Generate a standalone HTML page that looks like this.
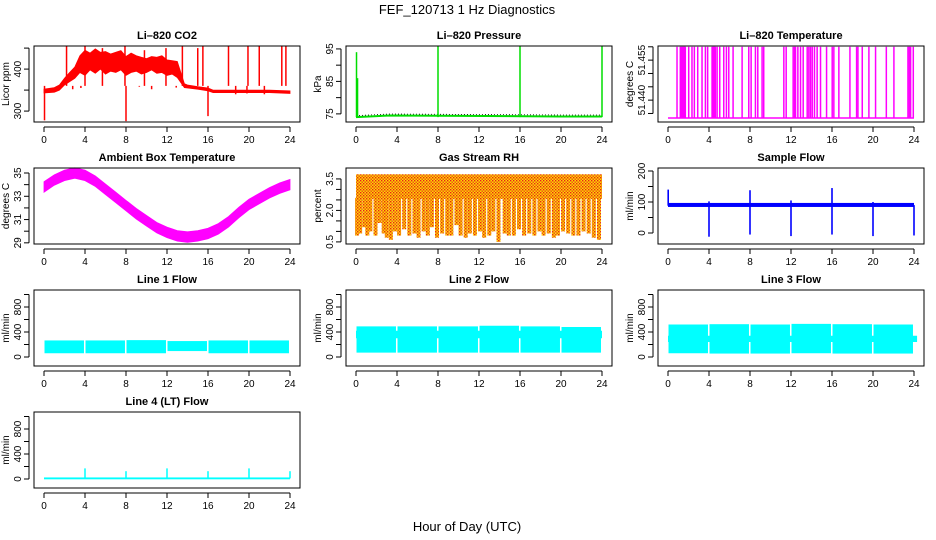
<!DOCTYPE html>
<html><head><meta charset="utf-8"><title>FEF_120713 1 Hz Diagnostics</title>
<style>
html,body{margin:0;padding:0;background:#fff;}
svg{display:block;font-family:"Liberation Sans",Arial,sans-serif;}
</style></head>
<body>
<svg id="chart" width="936" height="540" viewBox="0 0 936 540" xmlns="http://www.w3.org/2000/svg">
<defs>
<pattern id="rhpat" width="3" height="3" patternUnits="userSpaceOnUse">
<rect width="3" height="3" fill="#ffd800"/><rect x="0" y="0" width="1.4" height="1.4" fill="#e8201a"/><rect x="1.5" y="1.5" width="1.4" height="1.4" fill="#e8401a"/>
</pattern>
</defs>
<text x="467" y="14" text-anchor="middle" font-size="13">FEF_120713  1 Hz Diagnostics</text>
<text x="467" y="531" text-anchor="middle" font-size="13">Hour of Day (UTC)</text>
</svg>
<script>
// ---- data (hours of day) ----
const hourTicks = [0,4,8,12,16,20,24];
// CO2 band
const co2Hours = [0,1,1.5,2,2.5,3,3.5,4,4.5,5,5.5,6,6.5,7,7.5,8,8.5,9,9.5,10,10.5,11,11.5,12,12.5,13,13.7,14,15,16,16.5,18,20,22,24];
const co2Low  = [343,345,350,362,370,378,392,385,398,390,400,388,395,392,398,385,392,395,388,392,398,390,392,385,388,380,356,355,352,348,344,344,344,344,342];
const co2High = [352,356,362,378,392,405,432,445,438,448,440,442,436,440,444,430,438,432,428,425,430,428,432,422,420,418,365,362,358,355,350,350,350,350,348];
const co2SpikeT = [0.05,2.2,4.0,5.7,7.9,8.0,9.8,11.9,13.5,15.0,15.5,16.0,18.0,19.9,21.0,23.2,23.6,2.8,3.6,6.2,9.3,10.5,12.9,14.2,18.7,19.8,21.5];
const co2SpikeV = [278,455,455,450,455,276,445,450,455,450,455,288,455,455,455,455,455,352,355,360,358,352,356,355,340,342,340];
// Li-820 pressure
const presHours = [0,3.3,20,24];
const presBase = [74.0,74.5,74.2,74.2];
const presSpikeT = [0.05,0.15,8.0,16.0,24.0];
const presSpikeV = [94.0,86.0,95.8,96.0,95.8];
// Li-820 temperature
const tempBase = 51.4333;
const tempTop = 51.4600;
const tempSpikeT = [0.88,1.2,1.28,1.37,1.45,1.53,1.61,1.69,2.02,2.34,2.57,2.9,3.32,3.65,3.87,4.3,4.38,4.46,4.54,4.62,4.79,5.05,5.44,5.7,5.93,6.35,7.23,7.88,8.11,8.53,8.76,9.18,9.34,11.3,11.53,12.21,12.34,12.44,12.67,12.93,13.19,13.58,13.74,13.9,14.07,14.29,14.55,14.88,15.47,16.02,16.18,16.67,17.75,18.4,18.53,18.95,19.6,20.25,21.3,22.04,23.41,23.54,23.67,23.93];
// Ambient box temperature
const ambHours = [0,1,2,3,4,5,6,7,8,9,10,11,12,13,14,15,16,17,18,19,20,21,22,23,24];
const ambMid = [33.8,34.4,34.8,35.0,34.8,34.3,33.6,32.9,32.2,31.5,30.9,30.3,29.9,29.6,29.5,29.6,29.8,30.2,30.8,31.6,32.3,32.8,33.3,33.7,34.0];
const ambHalf = 0.45;
// Gas stream RH
const rhTop = 3.72;
const rhBottom = 2.55;
const rhSpikeT = [0.2,0.5,0.9,1.2,1.5,2.0,2.4,2.8,3.1,3.5,3.9,4.3,4.8,5.3,5.8,6.2,6.7,7.1,7.5,8.0,8.5,9.0,9.4,9.9,10.3,10.8,11.2,11.7,12.2,12.6,13.1,13.5,14.0,14.6,15.0,15.5,16.0,16.5,17.0,17.5,18.0,18.4,18.9,19.4,19.8,20.3,20.8,21.3,21.8,22.3,22.8,23.3,23.8];
const rhSpikeV = [0.8,0.9,1.2,0.8,1.0,0.8,1.4,0.9,0.7,0.6,1.0,0.8,1.1,0.8,0.9,0.7,1.0,0.8,1.2,0.7,0.9,0.8,0.8,1.3,0.8,0.7,0.9,0.8,1.0,0.7,0.8,1.0,0.5,0.9,0.8,0.8,1.1,0.8,0.9,0.8,1.0,0.8,0.9,0.7,0.8,1.0,0.9,0.8,0.8,1.0,0.9,0.7,0.6];
// Sample flow
const sfLow = 84, sfHigh = 97;
const sfSpikeT = [0.02,4.0,8.0,12.0,16.0,20.0,24.0];
const sfSpikeUp = [140,102,138,105,145,100,90];
const sfSpikeDown = [88,-12,-5,-10,-5,-10,-8];
// Line flows: segment starts/ends
const segStart = [0.05,4.05,8.05,12.05,16.05,20.05];
const segEnd = [3.9,7.9,11.9,15.9,19.9,23.9];
const line1Low = [60,60,60,95,60,60];
const line1High = [265,265,270,255,265,265];
const line2Low = [70,70,70,70,70,70];
const line2High = [490,490,490,500,490,480];
const line3Low = [60,55,55,60,55,55];
const line3High = [520,525,520,530,525,520];
const line4Base = 10;
const line4SpikeT = [4.0,8.0,12.0,16.0,20.0,24.0];
const line4SpikeV = [170,125,170,125,170,125];

// ---- layout ----
const svg = document.getElementById('chart');
const NS = 'http://www.w3.org/2000/svg';
const colLeft = [34,346,658];
const rowTop = [46,168,290,412];
const boxW = 266, boxH = 76;
function mk(tag, attrs, parent){
  const e = document.createElementNS(NS, tag);
  for (const k in attrs) e.setAttribute(k, attrs[k]);
  (parent||svg).appendChild(e);
  return e;
}
function panel(name, col, row, title, ylab, ymin, ymax, yticks, ylabels){
  const g = mk('g', {});
  
  
  const L = colLeft[col], T = rowTop[row];
  const xs = h => L + 10 + h/24*246;
  const ys = v => T + boxH - (v - ymin)/(ymax - ymin)*boxH;
  const t = mk('text', {x: L+boxW/2, y: T-7, 'text-anchor':'middle', 'font-size':'11', 'font-weight':'bold'}, g);
  t.textContent = title;
  
  
  const marks = mk('g', {}, g);
  
  
  const box = mk('rect', {x:L, y:T, width:boxW, height:boxH, fill:'none', stroke:'#000', 'stroke-width':'1'}, g);
  
  
  const xa = mk('g', {}, g);
  
  
  mk('line', {x1:xs(0), x2:xs(24), y1:T+boxH+5, y2:T+boxH+5, stroke:'#000'}, xa);
  hourTicks.forEach(h => {
    mk('line', {x1:xs(h), x2:xs(h), y1:T+boxH+5, y2:T+boxH+10, stroke:'#000'}, xa);
    const lb = mk('text', {x:xs(h), y:T+boxH+21, 'text-anchor':'middle', 'font-size':'10'}, xa);
    lb.textContent = h;
  });
  const ya = mk('g', {}, g);
  
  
  mk('line', {x1:L-5, x2:L-5, y1:ys(yticks[0]), y2:ys(yticks[yticks.length-1]), stroke:'#000'}, ya);
  yticks.forEach(v => mk('line', {x1:L-10, x2:L-5, y1:ys(v), y2:ys(v), stroke:'#000'}, ya));
  ylabels.forEach(v => {
    const lb = mk('text', {x:0, y:0, 'text-anchor':'middle', 'font-size':'10', transform:`translate(${L-13},${ys(+v)}) rotate(-90)`}, ya);
    lb.textContent = v;
  });
  const yl = mk('text', {x:0, y:0, 'text-anchor':'middle', 'font-size':'10', transform:`translate(${L-25},${T+boxH/2}) rotate(-90)`}, g);
  yl.textContent = ylab;
  
  
  return {xs, ys, g: marks};
}
function band(p, hs, lo, hi, color){
  let d = hs.map((h,i)=>(i?'L':'M')+p.xs(h).toFixed(1)+','+p.ys(hi[i]).toFixed(1)).join('');
  for (let i=hs.length-1;i>=0;i--) d += 'L'+p.xs(hs[i]).toFixed(1)+','+p.ys(lo[i]).toFixed(1);
  return mk('path', {d: d+'Z', fill: color, stroke: color, 'stroke-width':'0.8'}, p.g);
}
function vline(p, h, v1, v2, color, w){
  return mk('line', {x1:p.xs(h), x2:p.xs(h), y1:p.ys(v1), y2:p.ys(v2), stroke:color, 'stroke-width':w||1.2}, p.g);
}

// CO2
{
  const p = panel('co2', 0, 0, 'Li\u2013820 CO2', 'Licor ppm', 274, 455, [300,350,400,450], ['300','400']);
  const b = band(p, co2Hours, co2Low, co2High, '#ff0000');
  
  co2SpikeT.forEach((h,i) => {
    const l = vline(p, h, 360, co2SpikeV[i], '#ff0000', 1.5);
    
  });
}
// Pressure
{
  const p = panel('pressure', 1, 0, 'Li\u2013820 Pressure', 'kPa', 72.5, 95.9, [75,80,85,90,95], ['75','85','95']);
  const d = presHours.map((h,i)=>(i?'L':'M')+p.xs(h)+','+p.ys(presBase[i])).join('');
  const l = mk('path', {d, fill:'none', stroke:'#00dd00', 'stroke-width':'2'}, p.g);
  
  const l2 = mk('path', {d, fill:'none', stroke:'#000', 'stroke-width':'0.8', 'stroke-dasharray':'1 2', transform:'translate(0,-1.5)'}, p.g);
  
  presSpikeT.forEach((h,i) => {
    const s = vline(p, h, presBase[0], presSpikeV[i], '#00dd00', 1.5);
    
  });
}
// Li-820 temperature
{
  const p = panel('li820-temp', 2, 0, 'Li\u2013820 Temperature', 'degrees C', 51.4318, 51.4603, [51.435,51.440,51.445,51.450,51.455,51.460], ['51.440','51.455']);
  const b = mk('line', {x1:p.xs(0), x2:p.xs(24), y1:p.ys(tempBase), y2:p.ys(tempBase), stroke:'#ff00ff', 'stroke-width':'1.5'}, p.g);
  
  tempSpikeT.forEach(h => {
    const s = vline(p, h, tempBase, tempTop, '#ff00ff', 1.5);
    
  });
}
// Ambient
{
  const p = panel('ambient-temp', 0, 1, 'Ambient Box Temperature', 'degrees C', 28.9, 35.43, [29,30,31,32,33,34,35], ['29','31','33','35']);
  const b = band(p, ambHours, ambMid.map(v=>v-ambHalf), ambMid.map(v=>v+ambHalf), '#ff00ff');
  
}
// RH
{
  const p = panel('gas-rh', 1, 1, 'Gas Stream RH', 'percent', 0.40, 4.02, [0.5,1.0,1.5,2.0,2.5,3.0,3.5], ['0.5','2.0','3.5']);
  const r = mk('rect', {x:p.xs(0), y:p.ys(rhTop), width:p.xs(24)-p.xs(0), height:p.ys(rhBottom)-p.ys(rhTop), fill:'url(#rhpat)'}, p.g);
  
  rhSpikeT.forEach((h,i) => {
    const s = mk('rect', {x:p.xs(h)-3, y:p.ys(rhBottom)-1, width:4, height:p.ys(rhSpikeV[i])-p.ys(rhBottom)+1, fill:'url(#rhpat)'}, p.g);
    
  });
}
// Sample flow
{
  const p = panel('sample-flow', 2, 1, 'Sample Flow', 'ml/min', -35.5, 209.7, [0,50,100,150,200], ['0','100','200']);
  const r = mk('rect', {x:p.xs(0), y:p.ys(sfHigh), width:p.xs(24)-p.xs(0), height:p.ys(sfLow)-p.ys(sfHigh), fill:'#0000ff'}, p.g);
  
  sfSpikeT.forEach((h,i) => {
    const s = vline(p, h, sfSpikeDown[i], sfSpikeUp[i], '#0000ff', 1.6);
    
  });
}
// Line flows
function linePanel(name, col, row, title, lo, hi){
  const p = panel(name, col, row, title, 'ml/min', -144, 1072, [0,200,400,600,800,1000], ['0','400','800']);
  segStart.forEach((s,i) => {
    const r = mk('rect', {x:p.xs(s), y:p.ys(hi[i]), width:p.xs(segEnd[i])-p.xs(s), height:p.ys(lo[i])-p.ys(hi[i]), fill:'#00ffff'}, p.g);
    
  });
  return p;
}
linePanel('line1-flow', 0, 2, 'Line 1 Flow', line1Low, line1High);
{
  const p = linePanel('line2-flow', 1, 2, 'Line 2 Flow', line2Low, line2High);
  const c = mk('rect', {x:p.xs(0), y:p.ys(420), width:p.xs(24)-p.xs(0), height:p.ys(300)-p.ys(420), fill:'#00ffff'}, p.g);
  
}
{
  const p = linePanel('line3-flow', 2, 2, 'Line 3 Flow', line3Low, line3High);
  const c = mk('rect', {x:p.xs(0), y:p.ys(340), width:p.xs(24.3)-p.xs(0), height:p.ys(240)-p.ys(340), fill:'#00ffff'}, p.g);
  
}
{
  const p = panel('line4-flow', 0, 3, 'Line 4 (LT) Flow', 'ml/min', -144, 1072, [0,200,400,600,800,1000], ['0','400','800']);
  const b = mk('rect', {x:p.xs(0), y:p.ys(line4Base+15), width:p.xs(24)-p.xs(0), height:p.ys(line4Base-15)-p.ys(line4Base+15), fill:'#00ffff'}, p.g);
  
  line4SpikeT.forEach((h,i) => {
    const s = vline(p, h, line4Base, line4SpikeV[i], '#00ffff', 1.5);
    
  });
}
</script>
</body></html>
